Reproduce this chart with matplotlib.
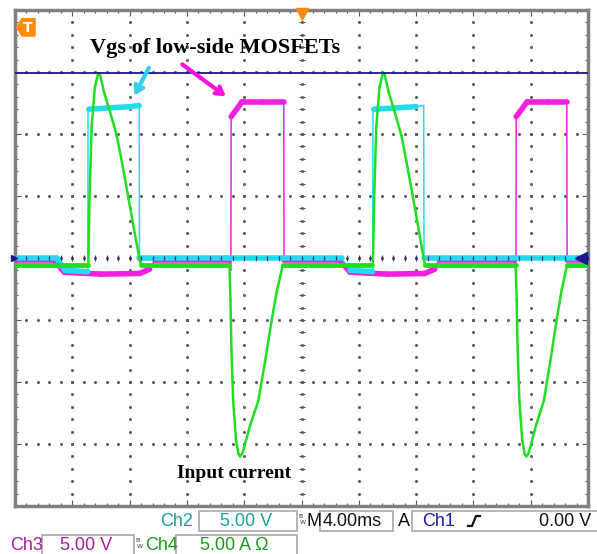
import numpy as np
import matplotlib.pyplot as plt
from matplotlib.patches import Polygon, Rectangle
from matplotlib.collections import LineCollection
from matplotlib.lines import Line2D

# scope settings
t_div = 4.0   # ms/div
v_div = 5.0   # V/div  (Ch2, Ch3)
a_div = 5.0   # A/div  (Ch4)

# Ch1 (dark blue), level given in divisions
ch1_t = [0.0, 40.0]
ch1_div = [2.98, 2.98]

# Ch2 (cyan) - Vgs low-side MOSFET 1 [V]
ch2_t = [0.0, 2.9, 3.5, 5.08, 5.10, 5.15, 6.5, 8.0, 8.67, 8.69,
         22.8, 23.4, 24.97, 24.99, 25.04, 26.5, 28.0, 28.53, 28.55, 40.0]
ch2_v = [0.0, 0.0, -1.0, -1.1, 12.0, 12.0, 12.1, 12.2, 12.3, 0.0,
         0.0, -1.0, -1.1, 12.0, 12.0, 12.1, 12.2, 12.3, 0.0, 0.0]

# Ch3 (magenta) - Vgs low-side MOSFET 2 [V]
ch3_t = [0.0, 2.75, 3.45, 6.0, 8.7, 9.4, 9.75, 14.95, 15.02, 15.07, 15.09,
         15.85, 17.3, 18.76, 18.78, 22.7, 23.4, 26.0, 28.6, 29.3, 29.6,
         34.9, 34.95, 34.97, 34.99, 35.75, 37.2, 38.52, 38.54, 40.0]
ch3_v = [-0.2, -0.2, -1.15, -1.3, -1.25, -0.9, -0.2, -0.2, -1.0, -1.0, 11.4,
         12.6, 12.6, 12.6, -0.2, -0.2, -1.15, -1.3, -1.25, -0.9, -0.2,
         -0.2, -1.0, -1.0, 11.4, 12.6, 12.6, 12.6, -0.2, -0.2]

# Ch4 (green) - input current [A]
ch4_t = [0.0, 5.08, 5.12, 5.20, 5.35, 5.58, 5.81, 5.93, 6.21, 6.63, 7.10,
         7.47, 7.91, 8.31, 8.68, 8.80,
         14.97, 15.04, 15.11, 15.23, 15.43, 15.60, 15.71, 15.85, 15.99, 16.41,
         16.99, 17.45, 17.92, 18.29, 18.69,
         24.95, 24.99, 25.07, 25.22, 25.45, 25.68, 25.80, 26.08, 26.50, 26.97,
         27.34, 27.78, 28.18, 28.52, 28.64,
         34.95, 35.02, 35.09, 35.21, 35.41, 35.58, 35.69, 35.83, 35.96, 36.37,
         36.92, 37.36, 37.81, 38.16, 38.53, 40.0]
ch4_a = [-0.6, -0.6, -0.3, 4.7, 10.6, 13.8, 14.9, 14.8, 13.4, 11.8, 9.9,
         7.7, 4.9, 2.3, 0.0, -0.6,
         -0.6, -3.4, -7.4, -11.5, -14.7, -15.8, -16.0, -15.8, -15.3, -13.5,
         -11.5, -8.4, -5.0, -2.6, -0.6,
         -0.6, -0.3, 4.7, 10.6, 13.8, 14.9, 14.8, 13.4, 11.8, 9.9,
         7.7, 4.9, 2.3, 0.0, -0.6,
         -0.6, -3.4, -7.4, -11.5, -14.7, -15.8, -16.0, -15.8, -15.3, -13.5,
         -11.5, -8.4, -5.0, -2.6, -0.6, -0.6]

W, H = 597, 554
fig = plt.figure(figsize=(W / 100, H / 100), dpi=100)
fig.patch.set_facecolor('white')
ax = fig.add_axes([15 / W, (H - 506) / H, 573 / W, 496 / H])
ax.set_xlim(0, 10)
ax.set_ylim(-4, 4)


def trace(t, y, scale, color, lw_flat, lw_edge, z):
    x = np.asarray(t) / t_div
    d = np.asarray(y) / scale
    segs = [[(x[i], d[i]), (x[i + 1], d[i + 1])] for i in range(len(x) - 1)]
    lws = []
    for i in range(len(x) - 1):
        dx = x[i + 1] - x[i]
        slope = abs(d[i + 1] - d[i]) / dx if dx > 0 else 1e9
        flat = slope < 1.5 and dx > 0.15
        lws.append(lw_flat if flat else lw_edge)
    lc = LineCollection(segs, colors=color, linewidths=lws, zorder=z,
                        capstyle='round', joinstyle='round')
    ax.add_collection(lc)


# graticule
for k in range(1, 10):
    yy = np.arange(-4, 4.01, 0.2)
    ax.plot(np.full_like(yy, k), yy, ls='none', marker='s', ms=1.0,
            color='#555555', zorder=1)
for k in range(-3, 4):
    xx = np.arange(0, 10.01, 0.2)
    ax.plot(xx, np.full_like(xx, k), ls='none', marker='s', ms=1.0,
            color='#555555', zorder=1)
yy = np.arange(-4, 4.01, 0.2)
ax.plot(np.full_like(yy, 5), yy, ls='none', marker='_', ms=5, mew=0.8,
        color='#555555', zorder=1)
xx = np.arange(0, 10.01, 0.2)
ax.plot(xx, np.zeros_like(xx), ls='none', marker='|', ms=5, mew=0.8,
        color='#555555', zorder=1)

trace(ch3_t, ch3_v, v_div, '#f21ee0', 4.0, 1.1, 3)
trace(ch2_t, ch2_v, v_div, '#22dcee', 4.0, 1.1, 4)
trace(ch4_t, ch4_a, a_div, '#22dd22', 3.5, 1.8, 5)
ax.plot(np.asarray(ch1_t) / t_div, ch1_div, color='#1a1a8c', lw=1.3, zorder=6)

# centre line drawn over traces
ax.plot(xx, np.zeros_like(xx), ls='none', marker='|', ms=3, mew=0.9,
        color='#2a2a80', zorder=7)

# frame ticks
ax.set_xticks(np.arange(0, 10.01, 1))
ax.set_yticks(np.arange(-4, 4.01, 1))
ax.set_xticks(np.arange(0, 10.01, 0.2), minor=True)
ax.set_yticks(np.arange(-4, 4.01, 0.2), minor=True)
ax.tick_params(which='both', direction='in', top=True, right=True,
               labelbottom=False, labelleft=False, color='#555555')
ax.tick_params(which='major', length=4, width=0.8)
ax.tick_params(which='minor', length=2.5, width=0.8)
for s in ax.spines.values():
    s.set_color('#808080')
    s.set_linewidth(2.5)

# markers
ax.add_patch(Polygon([(0.03, 3.72), (0.12, 3.86), (0.35, 3.86), (0.35, 3.58),
                      (0.12, 3.58)], closed=True, color='#ff8a10', zorder=8))
ax.text(0.23, 3.71, 'T', color='white', fontsize=10, fontweight='bold',
        ha='center', va='center', zorder=9)
ax.plot([5.0], [3.93], marker='v', ms=8, color='#ff8a10', clip_on=False,
        zorder=9)
ax.plot([9.88], [0.0], marker='<', ms=8, color='#1a1a8c', clip_on=False,
        zorder=9)
ax.plot([-0.02], [0.0], marker='>', ms=5, color='#1a1a8c', clip_on=False,
        zorder=9)

# annotations
ax.text(3.49, 3.39, 'Vgs of low-side MOSFETs', family='Liberation Serif',
        fontweight='bold', fontsize=16, ha='center', va='center', zorder=10)
ax.text(3.82, -3.48, 'Input current', family='Liberation Serif',
        fontweight='bold', fontsize=14, ha='center', va='center', zorder=10)
ax.annotate('', xy=(2.06, 2.58), xytext=(2.36, 3.11),
            arrowprops=dict(arrowstyle='->,head_length=0.5,head_width=0.3',
                            color='#33ccee', lw=3), zorder=10)
ax.annotate('', xy=(3.72, 2.58), xytext=(2.88, 3.15),
            arrowprops=dict(arrowstyle='->,head_length=0.5,head_width=0.3',
                            color='#ff10dd', lw=3), zorder=10)


# status bar below the screen
def fx(x):
    return x / W


def fy(y):
    return 1 - y / H


def box(x0, x1, y0, y1):
    fig.add_artist(Rectangle((fx(x0), fy(y1)), (x1 - x0) / W, (y1 - y0) / H,
                             transform=fig.transFigure, facecolor='white',
                             edgecolor='#a8a8a8', lw=1.2))


def label(x, y, s, c, ha='left'):
    fig.text(fx(x), fy(y), s, color=c, fontsize=13, ha=ha, va='center',
             family='Liberation Sans')


def bw(x, y):
    fig.text(fx(x), fy(y - 4), 'B', fontsize=4.5, color='#333333', ha='left',
             va='center')
    fig.text(fx(x + 2), fy(y + 2), 'W', fontsize=4.5, color='#333333',
             ha='left', va='center')


teal, purple, green, navy = '#1aa0a0', '#a0209a', '#1a9a1a', '#1c1c9c'
r1, r2 = 521, 545

label(160, r1, 'Ch2', teal)
box(199, 297, 511, 531)
label(220, r1, '5.00 V', teal)
bw(298, r1)
label(307, r1, 'M', '#111111')
box(320, 393, 511, 531)
label(323, r1, '4.00ms', '#111111')
label(398, r1, 'A', '#111111')
box(412, 600, 511, 531)
label(422, r1, 'Ch1', navy)
fig.add_artist(Line2D([fx(468), fx(472), fx(476), fx(480)],
                      [fy(r1 + 5), fy(r1 + 5), fy(r1 - 5), fy(r1 - 5)],
                      transform=fig.transFigure, color='#111111', lw=1.6))
label(591, r1, '0.00 V', '#111111', ha='right')

label(10, r2, 'Ch3', purple)
box(42, 134, 535, 556)
label(60, r2, '5.00 V', purple)
bw(135, r2)
label(145, r2, 'Ch4', green)
box(176, 297, 535, 556)
label(200, r2, '5.00 A \u03a9', green)

fig.savefig('out.png', dpi=100)
